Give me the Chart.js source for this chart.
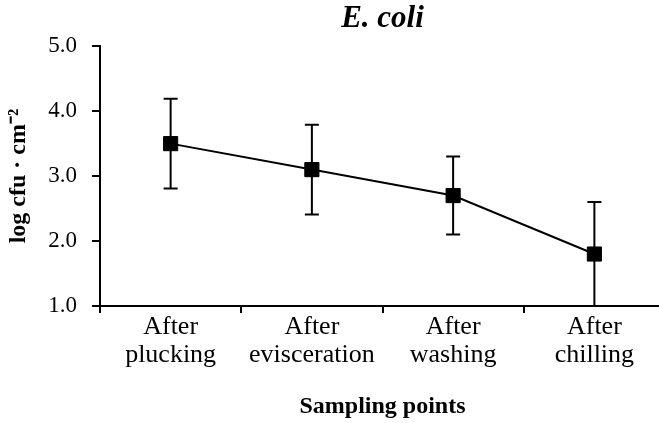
<!DOCTYPE html>
<html>
<head>
<meta charset="utf-8">
<script src="https://cdn.jsdelivr.net/npm/chart.js@4"></script>
<style>
  html, body { margin: 0; padding: 0; background: #fff; overflow: hidden; }
  #wrap { width: 676px; height: 423px; }
</style>
</head>
<body>
<div id="wrap"><canvas id="myChart"></canvas></div>
<script>
    'use strict';
    // sampling points and E. coli counts (log cfu/cm2)
    const categories = [['After', 'plucking'], ['After', 'evisceration'], ['After', 'washing'], ['After', 'chilling']];
    const means = [3.5, 3.1, 2.7, 1.8];
    const sd = [0.69, 0.69, 0.6, 0.8];
    const yTicks = [1.0, 2.0, 3.0, 4.0, 5.0];

    const serif = '"Liberation Serif", "Times New Roman", serif';

    // draw the +/- sd whiskers behind the markers
    const errorBars = {
        id: 'errorBars',
        beforeDatasetsDraw(chart){
            const ctx = chart.ctx;
            const x = chart.scales.x, y = chart.scales.y;
            ctx.save();
            ctx.strokeStyle = '#000';
            ctx.lineWidth = 2;
            means.forEach((m, i) => {
                const px = x.getPixelForValue(i);
                const top = y.getPixelForValue(m + sd[i]);
                const bot = y.getPixelForValue(m - sd[i]);
                ctx.beginPath();
                ctx.moveTo(px, top); ctx.lineTo(px, bot);
                ctx.moveTo(px - 7, top); ctx.lineTo(px + 7, top);
                ctx.moveTo(px - 7, bot); ctx.lineTo(px + 7, bot);
                ctx.stroke();
            });
            ctx.restore();
        }
    };

    const ctx = document.getElementById('myChart');
    new Chart(ctx, {
        type: 'line',
        data: {
            labels: categories,
            datasets: [{
                label: 'E. coli',
                data: means,
                borderColor: '#000',
                borderWidth: 2,
                backgroundColor: '#000',
                pointStyle: 'rect',
                pointRadius: 10,
                pointBorderWidth: 1,
                pointBackgroundColor: '#000',
                pointBorderColor: '#000',
                tension: 0,
                fill: false
            }]
        },
        options: {
            responsive: true,
            maintainAspectRatio: false,
            animation: false,
            layout: { padding: { left: 0, right: 5, top: 0, bottom: 0 } },
            plugins: {
                legend: { display: false },
                tooltip: { enabled: false },
                title: {
                    display: true,
                    fullSize: false,
                    text: 'E. coli',
                    color: '#000',
                    font: { family: serif, size: 31, weight: 'bold', style: 'italic' },
                    padding: { top: 0, bottom: 9 }
                }
            },
            scales: {
                x: {
                    offset: true,
                    afterFit: scale => { scale.height = 117; },
                    border: { display: true, color: '#000', width: 2 },
                    grid: { display: true, offset: true, drawOnChartArea: false, color: '#000', lineWidth: 2, tickLength: 7 },
                    ticks: { color: '#000', padding: 0, maxRotation: 0, font: { family: serif, size: 26, lineHeight: 1.08 } },
                    title: {
                        display: true,
                        text: 'Sampling points',
                        color: '#000',
                        font: { family: serif, size: 24, weight: 'bold' },
                        padding: { top: 10, bottom: 2 }
                    }
                },
                y: {
                    min: 1,
                    max: 5,
                    afterFit: scale => { scale.width = 100; },
                    afterBuildTicks: axis => { axis.ticks = yTicks.map(v => ({ value: v })); },
                    border: { display: true, color: '#000', width: 2 },
                    grid: { display: true, drawOnChartArea: false, color: '#000', lineWidth: 2, tickLength: 8 },
                    ticks: {
                        color: '#000',
                        padding: 15,
                        font: { family: serif, size: 23 },
                        callback: v => Number(v).toFixed(1)
                    },
                    title: {
                        display: true,
                        text: 'log cfu · cm⁻²',
                        color: '#000',
                        font: { family: serif, size: 24, weight: 'bold' },
                        padding: { top: 4, bottom: 10 }
                    }
                }
            }
        },
        plugins: [errorBars]
    });
</script>
</body>
</html>
